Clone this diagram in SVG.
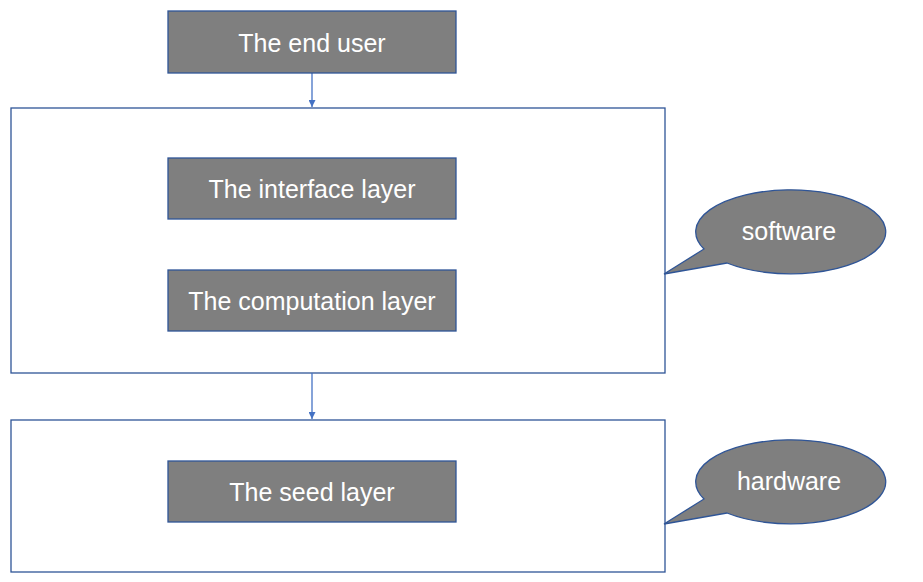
<svg xmlns="http://www.w3.org/2000/svg" width="923" height="582" viewBox="0 0 923 582">
<defs>
<style>
.node{fill:#7f7f7f;stroke:#2f5597;stroke-width:1.3}
.frame{fill:#ffffff;stroke:#2f5597;stroke-width:1.3}
.lbl{font-family:"Liberation Sans",Arial,sans-serif;font-size:25px;fill:#ffffff;text-anchor:middle;dominant-baseline:central}
.conn{stroke:#4472c4;stroke-width:1.3;fill:none}
</style>
<marker id="arr" viewBox="0 0 10 10" refX="10" refY="5" markerWidth="7" markerHeight="7" markerUnits="userSpaceOnUse" orient="auto">
<path d="M0,0 L10,5 L0,10 Z" fill="#4472c4"/>
</marker>
</defs>
<rect width="923" height="582" fill="#ffffff"/>
<g id="software-frame"><rect class="frame" x="11" y="108" width="654" height="265"/></g>
<g id="hardware-frame"><rect class="frame" x="11" y="420" width="654" height="152"/></g>
<g id="connectors">
<line class="conn" x1="312" y1="73" x2="312" y2="107" marker-end="url(#arr)"/>
<line class="conn" x1="312" y1="373" x2="312" y2="419" marker-end="url(#arr)"/>
</g>
<g id="end-user"><rect class="node" x="168" y="11" width="288" height="62"/><text class="lbl" x="312" y="43">The end user</text></g>
<g id="interface"><rect class="node" x="168" y="158" width="288" height="61"/><text class="lbl" x="312" y="189">The interface layer</text></g>
<g id="computation"><rect class="node" x="168" y="270" width="288" height="61"/><text class="lbl" x="312" y="301">The computation layer</text></g>
<g id="seed"><rect class="node" x="168" y="461" width="288" height="61"/><text class="lbl" x="312" y="492">The seed layer</text></g>
<g id="software">
<path class="node" d="M704,249 A95,42 0 1 1 727,263 L664,274 Z"/>
<text class="lbl" x="789" y="231">software</text>
</g>
<g id="hardware">
<path class="node" d="M704,499 A95,42 0 1 1 727,513 L664,524 Z"/>
<text class="lbl" x="789" y="481">hardware</text>
</g>
</svg>
